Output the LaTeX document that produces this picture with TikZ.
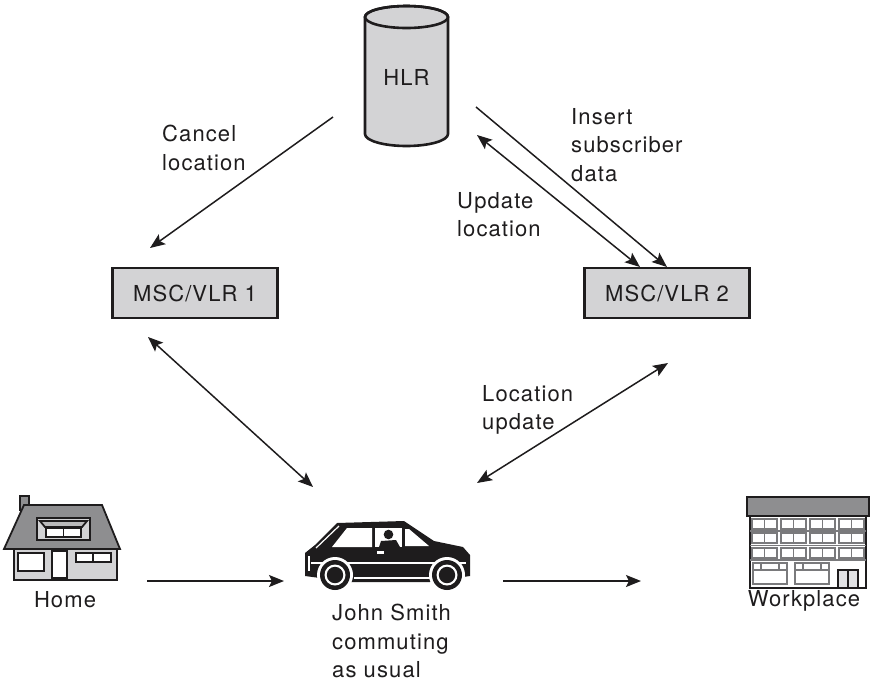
\documentclass[tikz,border=0pt]{standalone}
\usepackage{fontspec}
\setmainfont[LetterSpace=5]{TeX Gyre Heros}
\usetikzlibrary{arrows.meta}
\definecolor{ink}{HTML}{1E1C1D}
\definecolor{panel}{HTML}{D3D3D5}
\definecolor{roofgray}{HTML}{8E8E90}
\definecolor{pane}{HTML}{7A7A7C}
\definecolor{doorpane}{HTML}{E2E2E4}

\begin{document}
\begin{tikzpicture}[x=1pt,y=-1pt,
  lbl/.style={font=\fontsize{22}{28.5}\selectfont, text=ink, inner sep=0pt, align=left},
  conn/.style={line width=1.5pt, draw=ink, -{Stealth[length=15pt,width=12pt,inset=3pt]}},
  conntwo/.style={line width=1.5pt, draw=ink, {Stealth[length=15pt,width=12pt,inset=3pt]}-{Stealth[length=15pt,width=12pt,inset=3pt]}},
  mscbox/.style={draw=ink, line width=2.6pt, fill=panel, minimum width=165pt, minimum height=50pt,
    inner sep=0pt, font=\fontsize{22}{26}\selectfont, text=ink},
  outline/.style={draw=ink, line width=1.8pt},
  bldline/.style={draw=pane, line width=1.2pt},
]
\useasboundingbox (0,0) rectangle (873,681);

% ---------- HLR database ----------
\path[draw=ink, line width=2.6pt, fill=panel]
  (365,17) -- (365,134) arc[start angle=180, end angle=0, x radius=41.5, y radius=12]
  -- (448,17) arc[start angle=0, end angle=-180, x radius=41.5, y radius=11] -- cycle;
\draw[ink, line width=2.6pt] (406.5,17) ellipse [x radius=41.5, y radius=11];
\node[lbl] (hlr) at (406.5,77) {HLR};

% ---------- MSC/VLR boxes ----------
\node[mscbox] (msc1) at (195,293) {MSC/VLR 1};
\node[mscbox] (msc2) at (667,293) {MSC/VLR 2};

% ---------- House ----------
\begin{scope}
  \draw[outline, fill=roofgray] (20,496) rectangle (29,510);
  \draw[outline, fill=roofgray] (4,549) -- (24,505) -- (102,505) -- (120,549) -- cycle;
  \draw[outline, fill=panel] (37,518) rectangle (90,540);
  \draw[outline, fill=roofgray!60] (40,521) -- (87,521) -- (82,527) -- (45,527) -- cycle;
  \draw[outline, fill=white] (46,528) rectangle (81,537);
  \draw[outline] (63.5,528) -- (63.5,537);
  \draw[outline, fill=panel] (14,549) rectangle (117,580);
  \draw[outline, fill=white] (18,553) rectangle (44,571);
  \draw[outline, fill=white] (52,551) rectangle (67,578);
  \draw[outline, fill=white] (76,553) rectangle (111,562);
  \draw[outline] (93,553) -- (93,562);
\end{scope}
\node[lbl] (home) at (65,600) {Home};

% ---------- Car ----------
\begin{scope}
  \fill[ink] (305,576) -- (305,553) -- (315,545) -- (337,523) -- (404,521)
    -- (434,541) -- (463,547) -- (470,555) -- (470,576) -- (430,582) -- (350,582) -- cycle;
  % windows
  \fill[white] (332,547) -- (347,528) -- (372,528) -- (372,547) -- cycle;
  \fill[white] (375,528) -- (402,528) -- (402,547) -- (375,547) -- cycle;
  \fill[white] (405,529) -- (409,529) -- (429,546) -- (405,546) -- cycle;
  % driver
  \fill[ink] (388.5,534.5) circle (4.8);
  \fill[ink] (379,547) -- (381,541) -- (396,540) -- (400,547) -- cycle;
  % trim lines
  \draw[white, line width=1.2pt] (316,548) -- (339,526);
  \draw[white, line width=1.2pt] (311,563) -- (466,563);
  \draw[white, line width=1.2pt] (309,556) -- (309,571);
  \draw[white, line width=1.2pt] (354,578) -- (430,578);
  \fill[white] (377,551) rectangle (384,554);
  % wheels
  \foreach \cx in {335,447} {
    \fill[white] (\cx,575) circle (18);
    \fill[ink] (\cx,575) circle (15);
    \fill[white] (\cx,575) circle (10.5);
    \fill[ink] (\cx,575) circle (8.2);
  }
\end{scope}
\node[lbl, anchor=north west] (commuter) at (332,604) {John Smith\\commuting\\as usual};

% ---------- Office building ----------
\begin{scope}
  \draw[ink, line width=1.5pt] (750,516) rectangle (866,588);
  \foreach \ya/\yb in {519/529, 533/543, 548/558} {
    \foreach \xa in {752,781,810,839} {
      \draw[bldline] (\xa,\ya) rectangle ({\xa+25},\yb);
      \draw[bldline] ({\xa+12.5},\ya) -- ({\xa+12.5},\yb);
    }
  }
  \foreach \yy in {531,545.5,560} \draw[bldline] (750,\yy) -- (866,\yy);
  \foreach \xa in {753,795} {
    \draw[bldline] (\xa,563) rectangle ({\xa+34},584);
    \draw[bldline] (\xa,570) -- ({\xa+34},570);
    \draw[bldline] ({\xa+8},563) -- ({\xa+8},570);
    \draw[bldline] ({\xa+26},563) -- ({\xa+26},570);
  }
  \draw[ink, line width=1.5pt, fill=doorpane] (838,570) rectangle (858,588);
  \draw[ink, line width=1.2pt] (848,570) -- (848,588);
  \draw[ink, line width=1.8pt, fill=roofgray] (747,497) rectangle (869,516);
\end{scope}
\node[lbl] (work) at (804,601) {Workplace};

% ---------- Message labels ----------
\node[lbl, anchor=north west] (cancel) at (162,125) {Cancel\\location};
\node[lbl, anchor=north west] (insert) at (571,108) {Insert\\subscriber\\data};
\node[lbl, anchor=north west] (update) at (457,192) {Update\\location};
\node[lbl, anchor=north west] (locupd) at (482,385) {Location\\update};

% ---------- Connector end points ----------
\coordinate (cancelS) at (333,117);
\coordinate (cancelE) at (150,248);
\coordinate (insertS) at (476,107);
\coordinate (insertE) at (667,267);
\coordinate (updateA) at (640,267);
\coordinate (updateB) at (477,135);
\coordinate (leftA)   at (148,337);
\coordinate (leftB)   at (313,487);
\coordinate (rightA)  at (668,363);
\coordinate (rightB)  at (477,483);
\coordinate (homeS)   at (147,581);
\coordinate (homeE)   at (284,581);
\coordinate (workS)   at (503,581);
\coordinate (workE)   at (641,581);

% ---------- Connectors ----------
\draw[conn] (cancelS) -- (cancelE);
\draw[conn] (insertS) -- (insertE);
\draw[conntwo] (updateA) -- (updateB);
\draw[conntwo] (leftA) -- (leftB);
\draw[conntwo] (rightA) -- (rightB);
\draw[conn] (homeS) -- (homeE);
\draw[conn] (workS) -- (workE);
\end{tikzpicture}
\end{document}
